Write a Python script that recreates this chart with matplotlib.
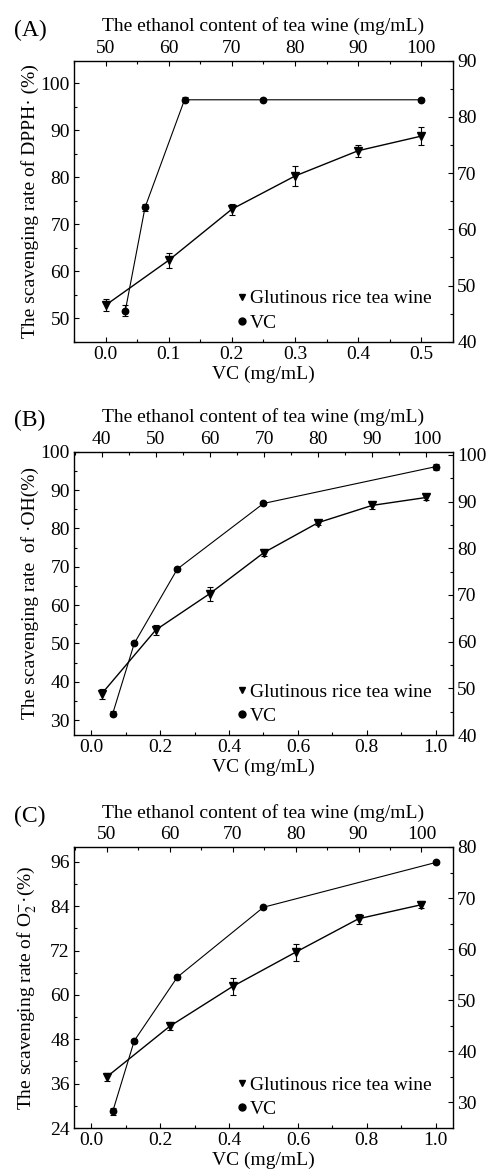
import matplotlib
matplotlib.use("Agg")
import matplotlib.pyplot as plt
from matplotlib.lines import Line2D
from matplotlib.ticker import MultipleLocator, FormatStrFormatter

plt.rcParams['font.family'] = ['Liberation Serif', 'DejaVu Serif']
plt.rcParams['mathtext.fontset'] = 'stix'
plt.rcParams['font.size'] = 14

# ---------------- data ----------------
# Panel A (DPPH)
vc_conc_A = [0.03125, 0.0625, 0.125, 0.25, 0.5]
vc_rate_A = [51.6, 73.6, 96.5, 96.5, 96.5]
vc_err_A = [1.2, 0.7, 0.5, 0.3, 0.3]
eth_A = [50, 60, 70, 80, 90, 100]
wine_rate_A = [46.5, 54.5, 63.6, 69.5, 74.0, 76.6]
wine_err_A = [1.1, 1.35, 1.0, 1.85, 1.1, 1.55]

# Panel B (.OH)
vc_conc_B = [0.0625, 0.125, 0.25, 0.5, 1.0]
vc_rate_B = [31.7, 50.0, 69.4, 86.5, 96.1]
vc_err_B = [0.7, 0.5, 0.4, 0.5, 0.8]
eth_B = [40, 50, 60, 70, 80, 90, 100]
wine_rate_B = [48.8, 62.5, 70.3, 79.1, 85.5, 89.2, 90.9]
wine_err_B = [1.1, 1.1, 1.5, 0.85, 0.5, 0.7, 0.5]

# Panel C (O2-)
vc_conc_C = [0.0625, 0.125, 0.25, 0.5, 1.0]
vc_rate_C = [28.5, 47.6, 64.8, 83.7, 95.8]
vc_err_C = [0.9, 0.5, 0.6, 0.4, 0.3]
eth_C = [50, 60, 70, 80, 90, 100]
wine_rate_C = [35.0, 44.9, 52.7, 59.4, 65.95, 68.7]
wine_err_C = [0.75, 0.8, 1.7, 1.7, 1.0, 0.65]

panel_letters = ["(A)", "(B)", "(C)"]
ylabels = ["The scavenging rate of DPPH\u00b7 (%)",
           "The scavenging rate  of \u00b7OH(%)",
           "The scavenging rate of O$_2^{-}$\u00b7(%)"]
top_label = "The ethanol content of tea wine (mg/mL)"
bottom_label = "VC (mg/mL)"
legend_labels = ["Glutinous rice tea wine", "VC"]

# ---------------- layout ----------------
fig = plt.figure(figsize=(4.89, 11.76), dpi=100)

panels = [
    dict(rect=[0.1513, 0.7094, 0.775, 0.2389],
         vc=(vc_conc_A, vc_rate_A, vc_err_A), wine=(eth_A, wine_rate_A, wine_err_A),
         xlim=(-0.05, 0.55), xmaj=0.1, xmin=0.05, xfmt='%.1f',
         ylim=(45, 104.8), ymaj=10, ymin=5,
         txlim=(45, 105), txmaj=10, txmin=5,
         rylim=(40, 90), rymaj=10, rymin=5),
    dict(rect=[0.1513, 0.375, 0.775, 0.2409],
         vc=(vc_conc_B, vc_rate_B, vc_err_B), wine=(eth_B, wine_rate_B, wine_err_B),
         xlim=(-0.05, 1.05), xmaj=0.2, xmin=0.1, xfmt='%.1f',
         ylim=(26.1, 100), ymaj=10, ymin=5,
         txlim=(34.9, 104.9), txmaj=10, txmin=5,
         rylim=(40, 100.7), rymaj=10, rymin=5),
    dict(rect=[0.1513, 0.0408, 0.775, 0.239],
         vc=(vc_conc_C, vc_rate_C, vc_err_C), wine=(eth_C, wine_rate_C, wine_err_C),
         xlim=(-0.05, 1.05), xmaj=0.2, xmin=0.1, xfmt='%.1f',
         ylim=(24, 100), ymaj=12, ymin=6,
         txlim=(44.8, 105), txmaj=10, txmin=5,
         rylim=(25, 80), rymaj=10, rymin=5),
]

for i, p in enumerate(panels):
    ax = fig.add_axes(p['rect'])
    ax2 = fig.add_axes(p['rect'], frameon=False)
    ax2.patch.set_visible(False)

    # VC series on bottom/left axes
    x, y, e = p['vc']
    ax.errorbar(x, y, yerr=e, color='black', marker='o', ms=4.6, lw=0.8,
                elinewidth=0.8, capsize=2.2, capthick=0.8, zorder=3)
    # tea wine on top/right axes
    x2, y2, e2 = p['wine']
    ax2.errorbar(x2, y2, yerr=e2, color='black', marker='v', ms=5.6, lw=1.0,
                 elinewidth=0.8, capsize=2.2, capthick=0.8, zorder=3)

    ax.set_xlim(*p['xlim'])
    ax.set_ylim(*p['ylim'])
    ax.xaxis.set_major_locator(MultipleLocator(p['xmaj']))
    ax.xaxis.set_minor_locator(MultipleLocator(p['xmin']))
    ax.xaxis.set_major_formatter(FormatStrFormatter(p['xfmt']))
    ax.yaxis.set_major_locator(MultipleLocator(p['ymaj']))
    ax.yaxis.set_minor_locator(MultipleLocator(p['ymin']))
    ax.tick_params(which='both', direction='in', top=False, right=False,
                   labelsize=14, width=0.8)
    ax.tick_params(which='major', length=3.6, pad=3)
    ax.tick_params(which='minor', length=2.2)
    for s in ax.spines.values():
        s.set_linewidth(1.0)

    ax2.set_xlim(*p['txlim'])
    ax2.set_ylim(*p['rylim'])
    ax2.xaxis.tick_top()
    ax2.yaxis.tick_right()
    ax2.xaxis.set_major_locator(MultipleLocator(p['txmaj']))
    ax2.xaxis.set_minor_locator(MultipleLocator(p['txmin']))
    ax2.yaxis.set_major_locator(MultipleLocator(p['rymaj']))
    ax2.yaxis.set_minor_locator(MultipleLocator(p['rymin']))
    ax2.tick_params(which='both', direction='in', bottom=False, left=False,
                    top=True, right=True, labelbottom=False, labelleft=False,
                    labeltop=True, labelright=True, labelsize=14, width=0.8)
    ax2.tick_params(which='major', length=3.6, pad=3)
    ax2.tick_params(which='minor', length=2.2)

    ax.set_xlabel(bottom_label, fontsize=14)
    ax.xaxis.set_label_coords(0.5, -0.085)
    ax.set_ylabel(ylabels[i], fontsize=14)
    ax.yaxis.set_label_coords(-0.093, 0.5)
    ax2.set_xlabel(top_label, fontsize=14)
    ax2.xaxis.set_label_position('top')
    ax2.xaxis.set_label_coords(0.5, 1.105)

    ax.text(-0.158, 1.109, panel_letters[i], transform=ax.transAxes,
            fontsize=17, ha='left', va='center')

    handles = [Line2D([], [], color='black', marker='v', ls='none', ms=5),
               Line2D([], [], color='black', marker='o', ls='none', ms=5)]
    ax2.legend(handles, legend_labels, loc='lower left',
               bbox_to_anchor=(0.428, 0.035), frameon=False, fontsize=14,
               handlelength=0.6, handletextpad=0.1, borderpad=0,
               borderaxespad=0, labelspacing=0.35)

fig.savefig("out.png", dpi=100)
